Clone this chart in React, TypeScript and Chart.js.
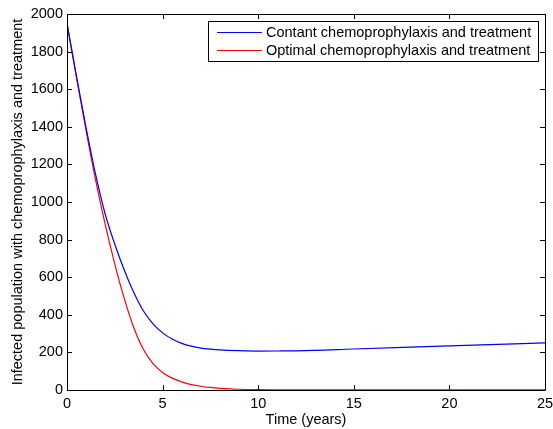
import React, { useEffect, useRef } from "react";
import { Chart, registerables } from "chart.js";

Chart.register(...registerables);

const timeYears = [0, 0.5, 1, 1.5, 2, 2.5, 3, 3.5, 4, 4.5, 5, 5.5, 6, 6.5, 7, 7.5, 8, 9, 10, 11, 12, 15, 20, 25];
const constantSeries = [1950, 1665, 1395, 1145, 935, 775, 637, 517, 420, 352, 304, 271, 248, 233, 223, 217, 213, 209, 207, 207.5, 208.5, 218, 235, 251];
const optimalSeries = [1950, 1660, 1378, 1115, 880, 670, 485, 330, 215, 140, 93, 63, 43, 29, 20, 13.5, 9, 4, 2, 1.2, 0.8, 0.4, 0.3, 0.2];
const xTicks = [0, 5, 10, 15, 20, 25];
const yTicks = [0, 200, 400, 600, 800, 1000, 1200, 1400, 1600, 1800, 2000];
const seriesLabels = ["Contant chemoprophylaxis and treatment", "Optimal chemoprophylaxis and treatment"];
const seriesColors = ["#0000ff", "#ff0000"];

const FONT = "'Liberation Sans', Arial, Helvetica, sans-serif";

const framePlugin = {
  id: "frame",
  afterDraw(chart: any) {
    const { ctx, chartArea } = chart;
    const { left, right, top, bottom } = chartArea;
    const xs = chart.scales.x;
    const ys = chart.scales.y;
    ctx.save();
    ctx.strokeStyle = "#000";
    ctx.lineWidth = 1;
    ctx.beginPath();
    ctx.rect(Math.round(left) + 0.5, Math.round(top) + 0.5, Math.round(right - left), Math.round(bottom - top));
    ctx.stroke();
    const tl = 5;
    ctx.beginPath();
    xTicks.forEach((v) => {
      const px = Math.round(xs.getPixelForValue(v)) + 0.5;
      ctx.moveTo(px, bottom);
      ctx.lineTo(px, bottom - tl);
      ctx.moveTo(px, top);
      ctx.lineTo(px, top + tl);
    });
    yTicks.forEach((v) => {
      const py = Math.round(ys.getPixelForValue(v)) + 0.5;
      ctx.moveTo(left, py);
      ctx.lineTo(left + tl, py);
      ctx.moveTo(right, py);
      ctx.lineTo(right - tl, py);
    });
    ctx.stroke();

    // legend
    const bx = 208.5, by = 21.5, bw = 330, bh = 40;
    ctx.fillStyle = "#fff";
    ctx.fillRect(bx, by, bw, bh);
    ctx.strokeStyle = "#000";
    ctx.strokeRect(bx, by, bw, bh);
    ctx.font = `14.5px ${FONT}`;
    ctx.textBaseline = "middle";
    const rows = [32.5, 50.5];
    seriesLabels.forEach((lab, i) => {
      ctx.strokeStyle = seriesColors[i];
      ctx.beginPath();
      ctx.moveTo(217, rows[i]);
      ctx.lineTo(262, rows[i]);
      ctx.stroke();
      ctx.fillStyle = "#000";
      ctx.fillText(lab, 266, rows[i] + 0.5);
    });
    ctx.restore();
  },
};

export default function App() {
  const ref = useRef<HTMLCanvasElement | null>(null);
  useEffect(() => {
    if (!ref.current) return;
    const chart = new Chart(ref.current, {
      type: "line",
      data: {
        datasets: [constantSeries, optimalSeries].map((s, i) => ({
          label: seriesLabels[i],
          data: timeYears.map((t, j) => ({ x: t, y: s[j] })),
          borderColor: seriesColors[i],
          borderWidth: 1.2,
          pointRadius: 0,
          fill: false,
          cubicInterpolationMode: "monotone" as const,
        })),
      },
      options: {
        animation: false,
        responsive: false,
        maintainAspectRatio: false,
        layout: { padding: { top: 14, right: 8, left: 0, bottom: 0 } },
        plugins: { legend: { display: false }, tooltip: { enabled: false } },
        scales: {
          x: {
            type: "linear",
            min: 0,
            max: 25,
            afterBuildTicks: (s: any) => { s.ticks = xTicks.map((v) => ({ value: v })); },
            afterFit: (s: any) => { s.height = 39; s.paddingLeft = 0; s.paddingRight = 0; },
            grid: { display: false, drawTicks: false },
            border: { display: false },
            ticks: { color: "#000", font: { family: FONT, size: 14.5 }, padding: 5, maxRotation: 0, callback: (v: any) => String(v) },
            title: { display: true, text: "Time (years)", color: "#000", font: { family: FONT, size: 14.5 }, padding: { top: 0, bottom: 0 } },
          },
          y: {
            type: "linear",
            min: 0,
            max: 2000,
            afterBuildTicks: (s: any) => { s.ticks = yTicks.map((v) => ({ value: v })); },
            afterFit: (s: any) => { s.width = 67; s.paddingTop = 0; s.paddingBottom = 0; },
            grid: { display: false, drawTicks: false },
            border: { display: false },
            ticks: { color: "#000", font: { family: FONT, size: 14.5 }, padding: 4, callback: (v: any) => String(v) },
            title: { display: true, text: "Infected population with chemoprophylaxis and treatment", color: "#000", font: { family: FONT, size: 14.5 }, padding: { top: 9, bottom: 0 } },
          },
        },
      },
      plugins: [framePlugin],
    });
    return () => chart.destroy();
  }, []);
  return (
    <div style={{ position: "fixed", left: 0, top: 0, width: 553, height: 429, background: "#fff" }}>
      <canvas ref={ref} width={553} height={429} style={{ width: 553, height: 429 }} />
    </div>
  );
}
